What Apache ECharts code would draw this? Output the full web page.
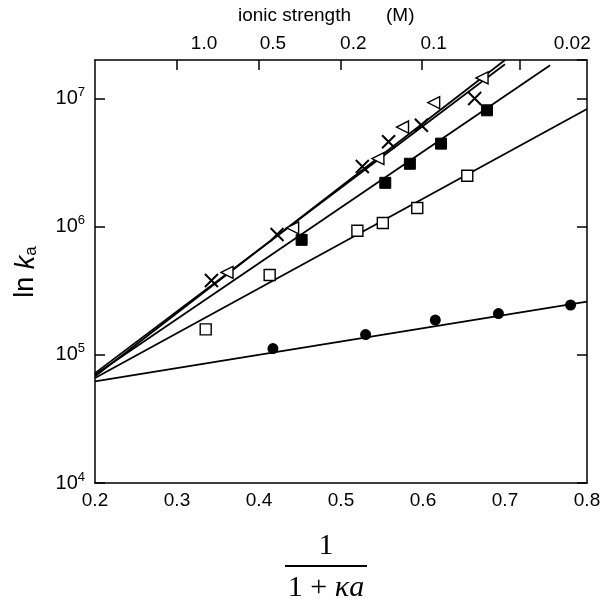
<!DOCTYPE html>
<html>
<head>
<meta charset="utf-8">
<script src="https://cdn.jsdelivr.net/npm/echarts@6/dist/echarts.min.js"></script>
<style>
  html, body { margin: 0; padding: 0; background: #fff; }
  #chart { width: 604px; height: 608px; }
</style>
</head>
<body>
<div id="chart"></div>
<script>
// points: x = 1/(1+κa), y = k_a
var crossX = [0.342, 0.422, 0.526, 0.558, 0.598, 0.663];
var crossY = [3.8e5, 8.7e5, 2.95e6, 4.6e6, 6.2e6, 1.0e7];
var triX = [0.361, 0.441, 0.545, 0.575, 0.613, 0.672];
var triY = [4.4e5, 9.8e5, 3.4e6, 6.0e6, 9.3e6, 1.45e7];
var fsqX = [0.452, 0.554, 0.584, 0.622, 0.678];
var fsqY = [7.9e5, 2.2e6, 3.1e6, 4.45e6, 8.1e6];
var osqX = [0.335, 0.413, 0.520, 0.551, 0.593, 0.654];
var osqY = [1.58e5, 4.2e5, 9.3e5, 1.07e6, 1.4e6, 2.5e6];
var dotX = [0.417, 0.530, 0.615, 0.692, 0.780];
var dotY = [1.12e5, 1.44e5, 1.87e5, 2.1e5, 2.45e5];

// fitted lines, start and end
var fitCrossX = [0.2, 0.70];
var fitCrossY = [7.2e4, 1.85e7];
var fitTriX = [0.2, 0.70];
var fitTriY = [6.8e4, 2.0e7];
var fitFsqX = [0.2, 0.755];
var fitFsqY = [7.0e4, 1.82e7];
var fitOsqX = [0.2, 0.8];
var fitOsqY = [6.6e4, 8.3e6];
var fitDotX = [0.2, 0.8];
var fitDotY = [6.2e4, 2.6e5];

// top axis: ionic strength (M)
var ionTickX = [0.300, 0.400, 0.500, 0.599, 0.718];
var ionLabelX = [0.333, 0.417, 0.515, 0.613, 0.782];
var ionLabels = ['1.0', '0.5', '0.2', '0.1', '0.02'];

function pairs(xs, ys) {
  return xs.map(function (x, i) { return [x, ys[i]]; });
}

var chart = echarts.init(document.getElementById('chart'));

var lineStyle = { color: '#000', width: 1.8 };
function fit(xs, ys) {
  return {
    type: 'line', data: pairs(xs, ys), symbol: 'none', silent: true,
    lineStyle: lineStyle, z: 2
  };
}

var option = {
  backgroundColor: '#fff',
  animation: false,
  textStyle: { fontFamily: 'Liberation Sans', color: '#000' },
  grid: { left: 95, right: 17, top: 60, bottom: 125 },
  xAxis: [
    {
      type: 'value', position: 'bottom', min: 0.2, max: 0.8, interval: 0.1,
      axisLine: { onZero: false, lineStyle: { color: '#000', width: 1.5 } },
      axisTick: { show: false },
      axisLabel: { color: '#000', fontSize: 19, margin: 8, fontFamily: 'Liberation Sans' },
      splitLine: { show: false }
    },
    {
      type: 'value', position: 'top', min: 0.2, max: 0.8,
      axisLine: { onZero: false, lineStyle: { color: '#000', width: 1.5 } },
      axisTick: { show: true, inside: true, length: 10, customValues: ionTickX,
        lineStyle: { color: '#000', width: 1.5 } },
      axisLabel: {
        color: '#000', fontSize: 19, margin: 7, fontFamily: 'Liberation Sans',
        customValues: ionLabelX,
        formatter: function (v) {
          for (var i = 0; i < ionLabelX.length; i++) {
            if (Math.abs(ionLabelX[i] - v) < 1e-6) return ionLabels[i];
          }
          return '';
        }
      },
      splitLine: { show: false }
    }
  ],
  yAxis: [
    {
      type: 'log', logBase: 10, min: 1e4, max: 2e7, position: 'left',
      axisLine: { onZero: false, lineStyle: { color: '#000', width: 1.5 } },
      axisTick: { show: true, inside: true, length: 10, lineStyle: { color: '#000', width: 1.5 } },
      axisLabel: {
        margin: 10, showMaxLabel: false,
        formatter: function (v) {
          return '{b|10}{s|' + Math.round(Math.log10(v)) + '}';
        },
        rich: {
          b: { fontSize: 20, color: '#000', fontFamily: 'Liberation Sans' },
          s: { fontSize: 13, color: '#000', fontFamily: 'Liberation Sans', padding: [0, 0, 12, 0] }
        }
      },
      splitLine: { show: false }
    },
    {
      type: 'log', logBase: 10, min: 1e4, max: 2e7, position: 'right',
      axisLine: { onZero: false, lineStyle: { color: '#000', width: 1.5 } },
      axisTick: { show: true, inside: true, length: 10, lineStyle: { color: '#000', width: 1.5 } },
      axisLabel: { show: false },
      splitLine: { show: false }
    }
  ],
  graphic: [
    { type: 'text', left: 238, top: 6,
      style: { text: 'ionic strength', font: '19px "Liberation Sans"', fill: '#000' } },
    { type: 'text', left: 386, top: 6,
      style: { text: '(M)', font: '19px "Liberation Sans"', fill: '#000' } },
    { type: 'text', x: 26, y: 272, rotation: Math.PI / 2,
      style: {
        text: '{n|ln }{k|k}{a|a}', align: 'center', verticalAlign: 'middle',
        rich: {
          n: { fontSize: 27, fill: '#000', fontFamily: 'Liberation Sans' },
          k: { fontSize: 27, fill: '#000', fontFamily: 'Liberation Sans', fontStyle: 'italic' },
          a: { fontSize: 17, fill: '#000', fontFamily: 'Liberation Sans', padding: [10, 0, 0, 0] }
        }
      } },
    { type: 'text', x: 326, y: 546,
      style: { text: '1', font: '30px "Liberation Serif"', fill: '#000', align: 'center', verticalAlign: 'middle' } },
    { type: 'line', shape: { x1: 285, y1: 566, x2: 367, y2: 566 },
      style: { stroke: '#000', lineWidth: 2 } },
    { type: 'text', x: 326, y: 588,
      style: {
        text: '{r|1 + }{i|κa}', align: 'center', verticalAlign: 'middle',
        rich: {
          r: { fontSize: 30, fill: '#000', fontFamily: 'Liberation Serif' },
          i: { fontSize: 30, fill: '#000', fontFamily: 'Liberation Serif', fontStyle: 'italic' }
        }
      } }
  ],
  series: [
    fit(fitCrossX, fitCrossY),
    fit(fitTriX, fitTriY),
    fit(fitFsqX, fitFsqY),
    fit(fitOsqX, fitOsqY),
    fit(fitDotX, fitDotY),
    {
      type: 'scatter', data: pairs(crossX, crossY), z: 3,
      symbol: 'path://M0,0L10,10M10,0L0,10', symbolSize: 13,
      itemStyle: { color: 'transparent', borderColor: '#000', borderWidth: 2, opacity: 1 }
    },
    {
      type: 'scatter', data: pairs(triX, triY), z: 3,
      symbol: 'triangle', symbolRotate: 90, symbolSize: 12,
      itemStyle: { color: '#fff', borderColor: '#000', borderWidth: 1.4, opacity: 1 }
    },
    {
      type: 'scatter', data: pairs(fsqX, fsqY), z: 3,
      symbol: 'rect', symbolSize: 11,
      itemStyle: { color: '#000', borderColor: '#000', borderWidth: 1, opacity: 1 }
    },
    {
      type: 'scatter', data: pairs(osqX, osqY), z: 3,
      symbol: 'rect', symbolSize: 11,
      itemStyle: { color: '#fff', borderColor: '#000', borderWidth: 1.4, opacity: 1 }
    },
    {
      type: 'scatter', data: pairs(dotX, dotY), z: 3,
      symbol: 'circle', symbolSize: 11,
      itemStyle: { color: '#000', opacity: 1 }
    }
  ]
};

chart.setOption(option);
window.addEventListener('resize', function () { chart.resize(); });
</script>
</body>
</html>
